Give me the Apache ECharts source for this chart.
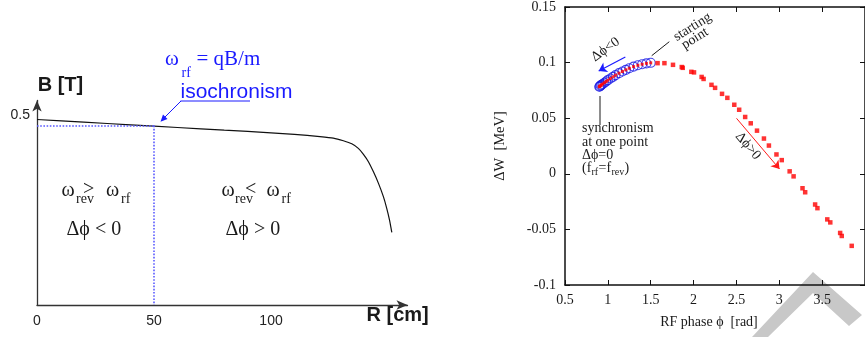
<!DOCTYPE html>
<html>
<head>
<meta charset="utf-8">
<script src="https://cdn.jsdelivr.net/npm/echarts@6/dist/echarts.min.js"></script>
<style>
html, body { margin: 0; padding: 0; background: #fff; }
#chart { width: 865px; height: 337px; }
</style>
</head>
<body>
<div id="chart"></div>
<script>
// left panel: magnetic field along the radius
const radiusCm = [0, 20, 40, 60, 80, 100, 110, 120.9, 126.6, 130.9, 134.5, 137.3, 139.4, 141.6, 143.7, 145.9, 148.0, 149.4, 150.6, 151.6];
const fieldT = [0.488, 0.481, 0.474, 0.467, 0.460, 0.453, 0.449, 0.443, 0.439, 0.432, 0.424, 0.412, 0.397, 0.377, 0.351, 0.320, 0.285, 0.255, 0.224, 0.191];
const isoRadius = 50;
const isoField = 0.472;
const radiusTicks = [0, 50, 100];
const fieldTicks = [0.5];

// right panel: energy gain vs RF phase
const phaseCircles = [1.50, 1.45, 1.40, 1.35, 1.30, 1.25, 1.21, 1.17, 1.13, 1.09, 1.06, 1.03, 1.00, 0.98, 0.96, 0.94, 0.925, 0.915, 0.905, 0.90];
const dwCircles = [0.0998, 0.0993, 0.0985, 0.0976, 0.0964, 0.0949, 0.0935, 0.0920, 0.0905, 0.0887, 0.0872, 0.0857, 0.0842, 0.0830, 0.0819, 0.0808, 0.0800, 0.0793, 0.0786, 0.0783];
const phaseSquares = [1.58, 1.66, 1.76, 1.862, 1.874, 1.974, 2.005, 2.094, 2.117, 2.209, 2.251, 2.332, 2.394, 2.475, 2.532, 2.602, 2.667, 2.740, 2.821, 2.879, 2.967, 3.029, 3.121, 3.167, 3.271, 3.302, 3.418, 3.445, 3.560, 3.595, 3.710, 3.729, 3.845];
const dwSquares = [0.0995, 0.0995, 0.0980, 0.0960, 0.0953, 0.0917, 0.0912, 0.0871, 0.0853, 0.0800, 0.0773, 0.0719, 0.0683, 0.0621, 0.0576, 0.0511, 0.0454, 0.0388, 0.0317, 0.0254, 0.0174, 0.0123, 0.0022, -0.0023, -0.0130, -0.0166, -0.0276, -0.0309, -0.0410, -0.0437, -0.0532, -0.0559, -0.0648];

const sans = "'Liberation Sans', Arial, sans-serif";
const serif = "'Liberation Serif', 'Times New Roman', serif";
const ink = "#1a1a1a";
const blue = "#1a1aff";
const phi = "\u03d5";

function txt(x, y, text, size, opt) {
  opt = opt || {};
  return {
    type: "text", x: x, y: y, rotation: opt.rot || 0, z: 50,
    style: {
      text: text, fontSize: size, fontFamily: opt.font || serif,
      fontWeight: opt.bold ? "bold" : "normal", fill: opt.color || ink,
      align: opt.align || "left", verticalAlign: "middle"
    }
  };
}
function seg(x1, y1, x2, y2, color) {
  return { type: "line", z: 50, shape: { x1: x1, y1: y1, x2: x2, y2: y2 },
    style: { stroke: color || ink, lineWidth: 1 } };
}

let chart = echarts.init(document.getElementById("chart"));
let option = {
  animation: false,
  grid: [
    { left: 37, top: 100.5, width: 370.5, height: 204.5 },
    { left: 565, top: 5.33, width: 303, height: 279.67 }
  ],
  xAxis: [
    {
      gridIndex: 0, type: "value", min: 0, max: 158.3,
      axisLine: { onZero: false, lineStyle: { color: "#333", width: 1.3 }, symbol: ["none", "arrow"], symbolSize: [7, 11] },
      axisTick: { show: false },
      splitLine: { show: false },
      axisLabel: { customValues: radiusTicks, color: "#222", fontSize: 14, fontFamily: sans, margin: 9 }
    },
    {
      gridIndex: 1, type: "value", min: 0.5, max: 4, interval: 0.5,
      axisLine: { onZero: false, lineStyle: { color: "#111", width: 1.5 } },
      axisTick: { inside: true, length: 5, lineStyle: { color: "#111" } },
      splitLine: { show: false },
      axisLabel: { showMaxLabel: false, color: ink, fontSize: 14, fontFamily: serif, margin: 8 }
    },
    {
      gridIndex: 1, type: "value", position: "top", min: 0.5, max: 4, interval: 0.5,
      axisLine: { onZero: false, lineStyle: { color: "#111", width: 1.5 } },
      axisTick: { inside: true, length: 5, lineStyle: { color: "#111" } },
      splitLine: { show: false },
      axisLabel: { show: false }
    }
  ],
  yAxis: [
    {
      gridIndex: 0, type: "value", min: 0, max: 0.538,
      axisLine: { show: true, onZero: false, lineStyle: { color: "#333", width: 1.3 }, symbol: ["none", "arrow"], symbolSize: [7, 11] },
      axisTick: { show: false },
      splitLine: { show: false },
      axisLabel: { customValues: fieldTicks, color: "#222", fontSize: 14, fontFamily: sans, margin: 7 }
    },
    {
      gridIndex: 1, type: "value", min: -0.1, max: 0.15, interval: 0.05,
      axisLine: { show: true, onZero: false, lineStyle: { color: "#111", width: 1.5 } },
      axisTick: { show: true, inside: true, length: 5, lineStyle: { color: "#111" } },
      splitLine: { show: false },
      axisLabel: { color: ink, fontSize: 14, fontFamily: serif, margin: 9 }
    },
    {
      gridIndex: 1, type: "value", position: "right", min: -0.1, max: 0.15, interval: 0.05,
      axisLine: { show: true, onZero: false, lineStyle: { color: "#111", width: 1.5 } },
      axisTick: { show: true, inside: true, length: 5, lineStyle: { color: "#111" } },
      splitLine: { show: false },
      axisLabel: { show: false }
    }
  ],
  series: [
    {
      name: "B(R)", type: "line", xAxisIndex: 0, yAxisIndex: 0,
      data: radiusCm.map((r, i) => [r, fieldT[i]]),
      smooth: 0.2, showSymbol: false,
      lineStyle: { color: "#111", width: 1.2 },
      markLine: {
        silent: true, symbol: "none", label: { show: false },
        lineStyle: { color: "#5a5aff", type: "dotted", width: 1.6 },
        data: [
          [{ coord: [0, isoField] }, { coord: [isoRadius, isoField] }],
          [{ coord: [isoRadius, isoField] }, { coord: [isoRadius, 0] }]
        ]
      }
    },
    {
      name: "start", type: "scatter", xAxisIndex: 1, yAxisIndex: 1,
      data: phaseCircles.map((p, i) => [p, dwCircles[i]]),
      symbol: "circle", symbolSize: 9,
      itemStyle: { color: "rgba(0,0,0,0)", borderColor: "#1515e6", borderWidth: 1.1 },
      markLine: {
        silent: true, symbol: ["none", "arrow"], symbolSize: 8, label: { show: false },
        lineStyle: { color: blue, type: "solid", width: 1.2 },
        data: [[{ coord: [1.204, 0.105] }, { coord: [0.893, 0.0924] }]]
      }
    },
    {
      name: "startInner", type: "scatter", xAxisIndex: 1, yAxisIndex: 1,
      data: phaseCircles.map((p, i) => [p, dwCircles[i]]),
      symbol: "rect", symbolSize: 3, itemStyle: { color: "#ff0000" }
    },
    {
      name: "run", type: "scatter", xAxisIndex: 1, yAxisIndex: 1,
      data: phaseSquares.map((p, i) => [p, dwSquares[i]]),
      symbol: "rect", symbolSize: 4.5, itemStyle: { color: "#ff0000" },
      markLine: {
        silent: true, symbol: ["none", "arrow"], symbolSize: 8, label: { show: false },
        lineStyle: { color: "#ff1a1a", type: "solid", width: 1 },
        data: [[{ coord: [2.501, 0.0499] }, { coord: [3.003, 0.0043] }]]
      }
    }
  ],
  graphic: [
    // watermark chevron
    { type: "polygon", z: -10, shape: { points: [[752, 337], [813, 272], [862, 315], [849, 326], [813, 293], [768, 337]] },
      style: { fill: "#c8c8c8" } },
    // left panel labels
    txt(37.7, 85, "B [T]", 20, { font: sans, bold: true }),
    txt(366.5, 315, "R [cm]", 20, { font: sans, bold: true }),
    txt(165, 59.5, "ω", 21, { color: blue }),
    txt(181.5, 73, "rf", 14, { color: blue }),
    txt(196.5, 59.5, "= qB/m", 21, { color: blue }),
    txt(180.5, 92, "isochronism", 21, { font: sans, color: blue }),
    { type: "line", z: 50, shape: { x1: 180.5, y1: 101, x2: 250, y2: 101 }, style: { stroke: blue, lineWidth: 1 } },
    { type: "line", z: 50, shape: { x1: 181, y1: 101, x2: 164, y2: 118 }, style: { stroke: blue, lineWidth: 1 } },
    { type: "polygon", z: 50, shape: { points: [[160.5, 121.7], [163, 114.5], [167.5, 119]] }, style: { fill: blue } },
    txt(61.5, 191, "ω", 20),
    txt(76, 199.5, "rev", 14),
    txt(83, 190, ">", 20),
    txt(106, 191, "ω", 20),
    txt(121, 199.5, "rf", 14),
    txt(66.5, 230, "Δ" + phi + " < 0", 20),
    txt(221.5, 191, "ω", 20),
    txt(235, 199.5, "rev", 14),
    txt(245, 190, "<", 20),
    txt(266.5, 191, "ω", 20),
    txt(281.5, 199.5, "rf", 14),
    txt(225.5, 230, "Δ" + phi + " > 0", 20),
    // right panel labels
    txt(709, 322, "RF phase " + phi + "  [rad]", 14, { align: "center" }),
    txt(500, 146, "ΔW  [MeV]", 14.5, { align: "center", rot: Math.PI / 2 }),
    txt(692.5, 27, "starting", 14, { align: "center", rot: 0.56 }),
    txt(695, 38.5, "point", 14, { align: "center", rot: 0.56 }),
    seg(651.7, 55.7, 669.3, 41.7),
    txt(605.5, 49.5, "Δ" + phi + "<0", 14, { align: "center", rot: 0.63 }),
    txt(748, 146, "Δ" + phi + ">0", 14, { align: "center", rot: -0.87 }),
    seg(600, 96, 600, 125),
    txt(582, 128.5, "synchronism", 14),
    txt(582, 142.5, "at one point", 14),
    txt(582, 155.5, "Δ" + phi + "=0", 14),
    txt(582, 168, "(f", 14),
    txt(591.5, 172, "rf", 10),
    txt(598.5, 168, "=f", 14),
    txt(611.5, 172, "rev", 10),
    txt(624.5, 168, ")", 14)
  ]
};
chart.setOption(option);
</script>
</body>
</html>
